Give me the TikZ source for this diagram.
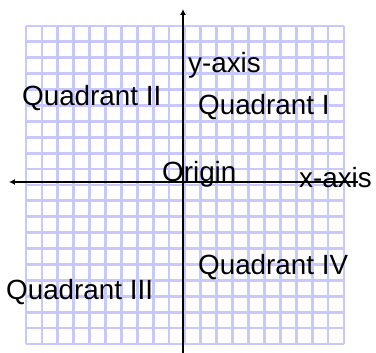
\documentclass[tikz,border=0pt]{standalone}
\usepackage{fontspec}
\setmainfont{Liberation Sans}
\usepackage{tikz}
\usetikzlibrary{arrows.meta}
\definecolor{GridLav}{HTML}{C8C8FF}

\begin{document}
\begin{tikzpicture}[x=1pt,y=-1pt,
  gridline/.style={draw=GridLav,line width=2.8pt},
  axis/.style={draw=black,line width=1.8pt},
  axisarrow/.style={axis,-{Latex[length=6pt,width=6pt]}},
  lbl/.style={inner sep=0pt,anchor=base west,font=\fontsize{27.8}{30}\selectfont}
]
\useasboundingbox (0,0) rectangle (376,353);
% grid
\foreach \i in {0,...,20} {
  \draw[gridline] (26+\i*15.9,26) -- (26+\i*15.9,344);
  \draw[gridline] (26,26+\i*15.9) -- (344,26+\i*15.9);
}
% axes
\coordinate (top) at (183,9);
\coordinate (bottom) at (183,353);
\coordinate (left) at (9,182);
\coordinate (right) at (358,182);
\draw[axisarrow] (bottom) -- (top);
\draw[axisarrow] (right) -- (left);
% labels
\node[lbl] (yaxis) at (188,73) {y-axis};
\node[lbl] (q2) at (22,106) {Quadrant II};
\node[lbl] (q1) at (198,115) {Quadrant I};
\node[lbl] (origin) at (162,182) {Origin};
\node[lbl] (xaxis) at (299,188) {x-axis};
\node[lbl] (q3) at (6,300) {Quadrant III};
\node[lbl] (q4) at (198,275) {Quadrant IV};
\end{tikzpicture}
\end{document}
